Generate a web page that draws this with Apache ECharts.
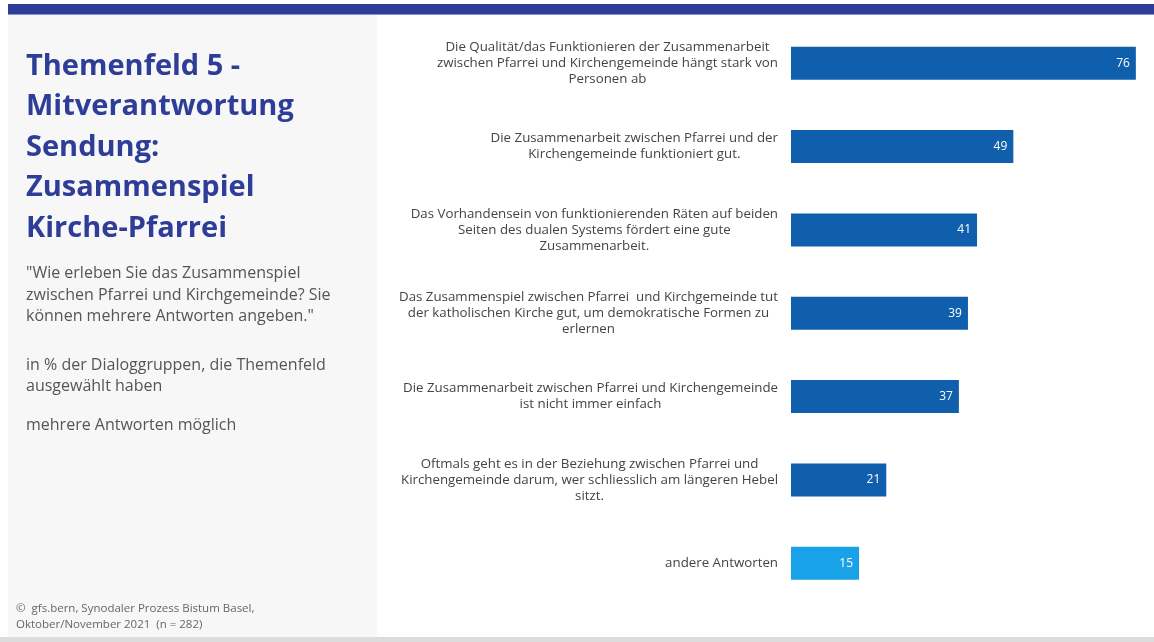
<!DOCTYPE html>
<html>
<head>
<meta charset="utf-8">
<script src="https://cdn.jsdelivr.net/npm/echarts@6/dist/echarts.min.js"></script>
<style>
html,body{margin:0;padding:0;background:#fff;}
#chart{width:1154px;height:642px;}
</style>
</head>
<body>
<div id="chart"></div>
<script>
const categories = [
  "Die Qualität/das Funktionieren der Zusammenarbeit\nzwischen Pfarrei und Kirchengemeinde hängt stark von\nPersonen ab",
  "Die Zusammenarbeit zwischen Pfarrei und der\nKirchengemeinde funktioniert gut.",
  "Das Vorhandensein von funktionierenden Räten auf beiden\nSeiten des dualen Systems fördert eine gute\nZusammenarbeit.",
  "Das Zusammenspiel zwischen Pfarrei  und Kirchgemeinde tut\nder katholischen Kirche gut, um demokratische Formen zu\nerlernen",
  "Die Zusammenarbeit zwischen Pfarrei und Kirchengemeinde\nist nicht immer einfach",
  "Oftmals geht es in der Beziehung zwischen Pfarrei und\nKirchengemeinde darum, wer schliesslich am längeren Hebel\nsitzt.",
  "andere Antworten"
];
const values = [76, 49, 41, 39, 37, 21, 15];
const highlight = [false, false, false, false, false, false, true];

const titleText = "Themenfeld 5 -\nMitverantwortung\nSendung:\nZusammenspiel\nKirche-Pfarrei";
const questionText = "\"Wie erleben Sie das Zusammenspiel\nzwischen Pfarrei und Kirchgemeinde? Sie\nkönnen mehrere Antworten angeben.\"";
const baseText = "in % der Dialoggruppen, die Themenfeld\nausgewählt haben";
const noteText = "mehrere Antworten möglich";
const sourceText = "©  gfs.bern, Synodaler Prozess Bistum Basel,\nOktober/November 2021  (n = 282)";

const chart = echarts.init(document.getElementById('chart'), null, {renderer: 'canvas'});
const option = {
  backgroundColor: '#ffffff',
  animation: false,
  graphic: [
    {type: 'rect', left: 8, top: 15, shape: {width: 369, height: 623}, style: {fill: '#f7f7f7'}, z: -10},
    {type: 'rect', left: 8, top: 4, shape: {width: 1146, height: 10}, style: {fill: '#2e3d98'}, z: -5},
    {type: 'rect', left: 8, top: 14, shape: {width: 1146, height: 1}, style: {fill: '#8c93c9'}, z: -5},
    {type: 'rect', left: 0, top: 637, shape: {width: 1154, height: 5}, style: {fill: '#dcdcdc'}, z: -5},
    {type: 'text', left: 26, top: 46, style: {text: titleText, font: 'bold 29px "Open Sans"', fill: '#2e3d98', lineHeight: 40.5}},
    {type: 'text', left: 26, top: 263, style: {text: questionText, font: '16px "Open Sans"', fill: '#555555', lineHeight: 21.5}},
    {type: 'text', left: 26, top: 355, style: {text: baseText, font: '16px "Open Sans"', fill: '#555555', lineHeight: 21}},
    {type: 'text', left: 26, top: 415, style: {text: noteText, font: '16px "Open Sans"', fill: '#555555', lineHeight: 21}},
    {type: 'text', left: 16, top: 601, style: {text: sourceText, font: '11.5px "Open Sans"', fill: '#666666', lineHeight: 16}}
  ],
  grid: {left: 791, top: 21.5, width: 363.2, height: 583.5, containLabel: false},
  xAxis: {
    type: 'value', min: 0, max: 80, show: false
  },
  yAxis: {
    type: 'category', data: categories, inverse: true,
    axisLine: {show: false}, axisTick: {show: false},
    axisLabel: {
      margin: 13, align: 'right',
      formatter: function (v) {
        return v.split('\n').map(function (l) { return '{c|' + l + '}'; }).join('\n');
      },
      rich: {c: {align: 'center', fontFamily: 'Open Sans', fontSize: 13.3, color: '#444444', lineHeight: 16}}
    }
  },
  series: [{
    type: 'bar',
    barWidth: 33,
    data: values.map(function (v, i) {
      return {value: v, itemStyle: {color: highlight[i] ? '#1aa2e8' : '#0f5fad'}};
    }),
    label: {
      show: true, position: 'insideRight', distance: 6,
      color: '#ffffff', fontFamily: 'Open Sans', fontSize: 12
    }
  }]
};
chart.setOption(option);
</script>
</body>
</html>
